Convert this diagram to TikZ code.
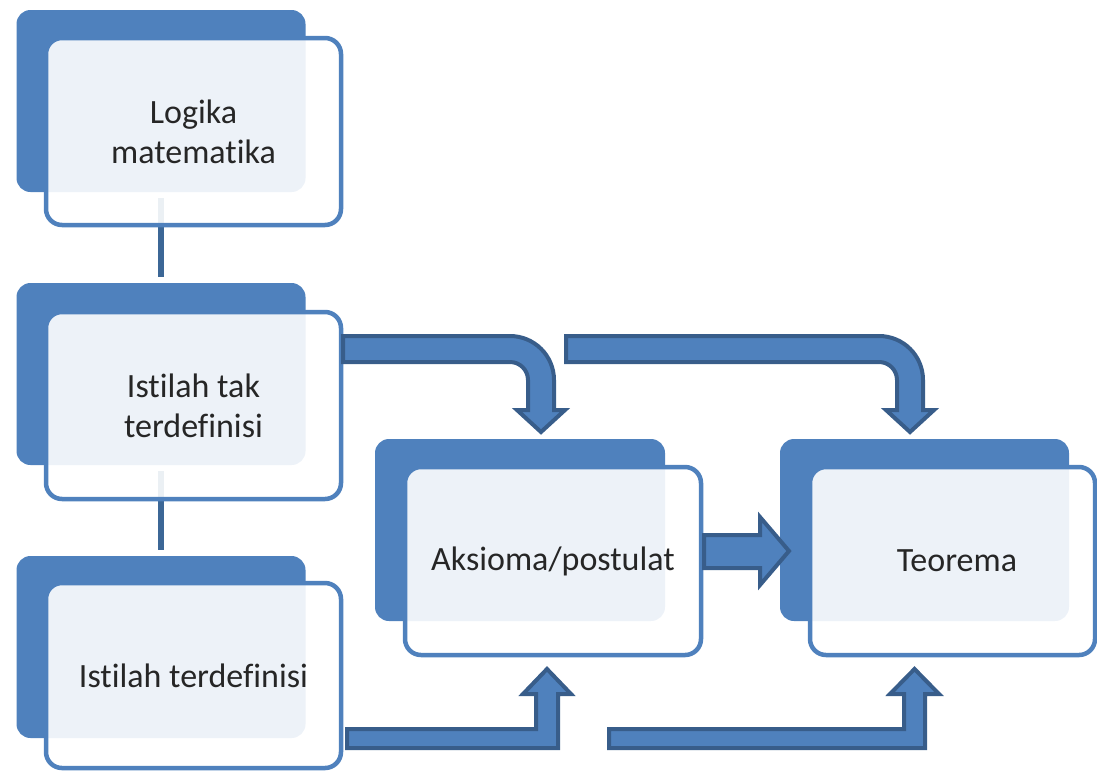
\documentclass[tikz,border=0pt]{standalone}
\usepackage{fontspec}
\setmainfont{Carlito}[Ligatures={NoCommon}]
\definecolor{boxblue}{RGB}{79,129,189}
\definecolor{arrowedge}{RGB}{56,93,138}
\definecolor{linkblue}{RGB}{60,103,150}
\definecolor{txt}{RGB}{38,38,38}
\tikzset{
  backbox/.style={fill=boxblue, rounded corners=14pt, inner sep=0pt, minimum width=289pt, minimum height=182pt},
  frontbox/.style={draw=boxblue, line width=4.5pt, fill=white, fill opacity=0.9, text opacity=1,
    rounded corners=16pt, inner sep=0pt, align=center, text=txt,
    font=\fontsize{34}{40}\selectfont},
  link/.style={draw=linkblue, line width=6pt, shorten <=6pt, shorten >=6pt},
  blockarrow/.style={fill=boxblue, draw=arrowedge, line width=4pt, line join=miter}
}
\begin{document}
\begin{tikzpicture}[x=1pt, y=-1pt]
\useasboundingbox (0,0) rectangle (1097,772);
% back boxes
\node[backbox] (back1) at (161,101) {};
\node[backbox] (back2) at (161,374) {};
\node[backbox] (back3) at (161,647) {};
\node[backbox, minimum width=290pt] (back4) at (520,530) {};
\node[backbox] (back5) at (924.5,530) {};
% links
\draw[link] (back1.south) -- (back2.north);
\draw[link] (back2.south) -- (back3.north);
% front boxes
\node[frontbox, minimum width=295pt, minimum height=187pt] (logika) at (193.5,131.5) {Logika\\matematika};
\node[frontbox, minimum width=295pt, minimum height=187pt] (taktdef) at (193.5,405.5) {Istilah tak\\terdefinisi};
\node[frontbox, minimum width=295pt, minimum height=185pt] (tdef) at (193.5,675.5) {Istilah terdefinisi};
\node[frontbox, minimum width=296pt, minimum height=188pt] (aksioma) at (553,561) {Aksioma/postulat};
\node[frontbox, minimum width=285pt, minimum height=188pt] (teorema) at (952.5,561) {\hspace*{9pt}Teorema};
% block arrows
\draw[blockarrow] (343,336) -- (510,336) arc[start angle=90, end angle=0, radius=44pt]
  -- (554,410) -- (565,410) -- (541,432) -- (517,410) -- (528,410) -- (528,380)
  arc[start angle=0, end angle=90, radius=18pt] -- (343,362) -- cycle;
\draw[blockarrow] (566,336) -- (879,336) arc[start angle=90, end angle=0, radius=44pt]
  -- (923,410) -- (934,410) -- (910,432) -- (886,410) -- (897,410) -- (897,380)
  arc[start angle=0, end angle=90, radius=18pt] -- (566,362) -- cycle;
\draw[blockarrow] (704,535) -- (760,535) -- (760,517) -- (789,551) -- (760,585) -- (760,568) -- (704,568) -- cycle;
\draw[blockarrow] (347,729) -- (536,729) -- (536,694) -- (523,694) -- (547,669) -- (571,694) -- (558,694) -- (558,748) -- (347,748) -- cycle;
\draw[blockarrow] (609,729) -- (904,729) -- (904,694) -- (890,694) -- (914.5,669) -- (939,694) -- (925,694) -- (925,748) -- (609,748) -- cycle;
\end{tikzpicture}
\end{document}
